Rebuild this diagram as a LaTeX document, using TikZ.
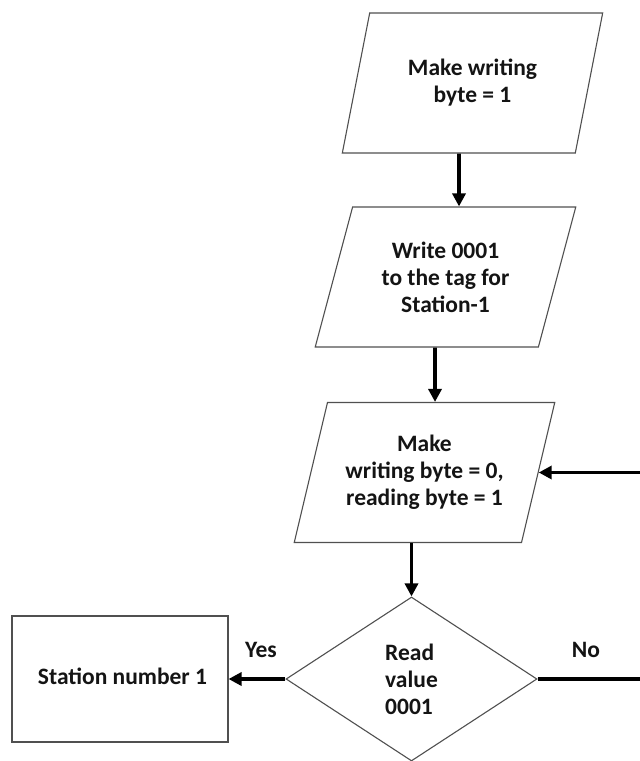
\documentclass[tikz,border=0pt]{standalone}
\usepackage{fontspec}
\setmainfont{Carlito}
\usetikzlibrary{shapes.geometric,arrows.meta}
\definecolor{outline}{RGB}{80,80,80}
\definecolor{ink}{RGB}{20,20,20}

\begin{document}
\begin{tikzpicture}[x=1pt,y=-1pt,
  font=\fontsize{23.5}{27}\selectfont\bfseries,
  text=ink,
  iobox/.style={trapezium, trapezium left angle=70, trapezium right angle=110,
    trapezium stretches=true, draw=outline, line width=1.1pt,
    minimum width=261pt, minimum height=140pt, align=center, inner sep=0pt},
  decision/.style={diamond, draw=outline, line width=1.1pt,
    minimum width=251pt, minimum height=164pt, align=left, inner sep=0pt},
  procbox/.style={rectangle, draw=outline, line width=1.1pt,
    minimum width=216pt, minimum height=126pt, inner sep=0pt},
  arr/.style={draw=black, line width=3.9pt, -{Triangle[length=13pt,width=13pt]}},
  lbl/.style={inner sep=0pt}
]
\fill[white] (0,0) rectangle (640,761);
\useasboundingbox (0,0) rectangle (640,761);

% input/output steps
\node[iobox] (p1) at (472.5,83) {Make writing\\byte = 1};
\node[iobox] (p2) at (445.5,277) {Write 0001\\to the tag for\\Station-1};
\node[iobox] (p3) at (424.5,472.5) {Make\\writing byte = 0,\\reading byte = 1};

% decision and result
\node[decision] (d) at (411.5,679) {Read\\value\\0001};
\node[procbox] (r) at (120,679) {};
\node[lbl] (rt) at (122.5,676) {Station number 1};

% branch labels
\node[lbl] (yes) at (261,650) {Yes};
\node[lbl] (no) at (586,650) {No};

% loop-back corner beyond the right edge
\coordinate (loop) at (641.5,600);

% connectors
\draw[arr] ([xshift=-13.5pt]p1.south) -- ([xshift=13.5pt]p2.north);
\draw[arr] ([xshift=-10.5pt]p2.south) -- ([xshift=10.5pt]p3.north);
\draw[arr] (p3.south -| d.north) -- (d.north);
\draw[arr] (d.west) -- (r.east);
\draw[arr] (d.east) -| (loop) |- (p3.east);
\end{tikzpicture}
\end{document}
